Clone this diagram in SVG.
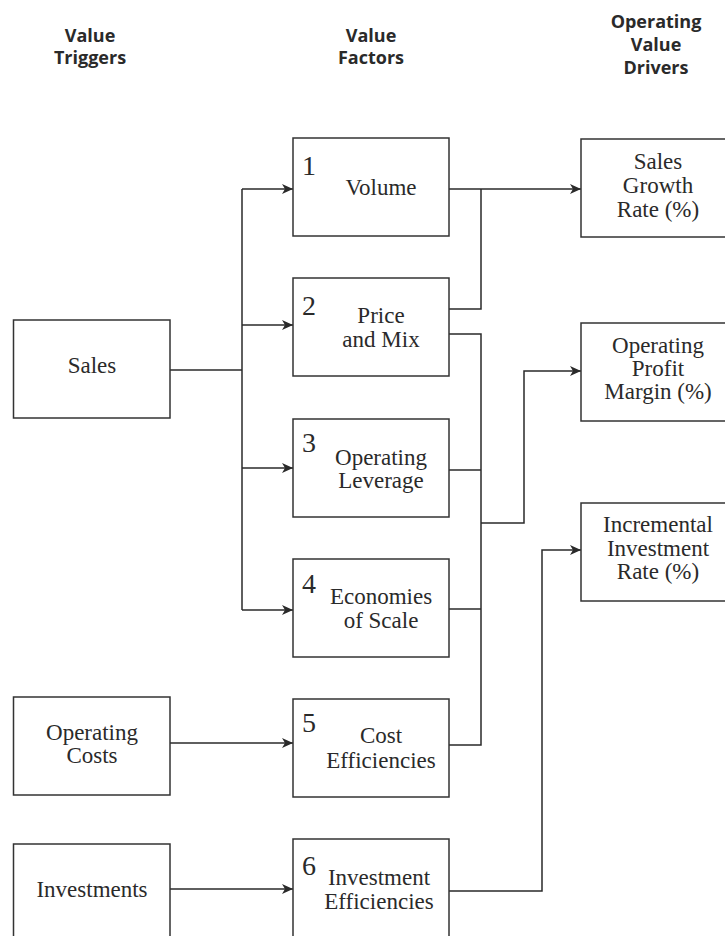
<svg xmlns="http://www.w3.org/2000/svg" width="725" height="936" viewBox="0 0 725 936">
<style>
.box{fill:#fff;stroke:#333;stroke-width:1.5}
.hd{font-family:"Open Sans","Noto Sans",sans-serif;font-weight:bold;font-size:18px;fill:#2a2a2a;text-anchor:middle}
.t{font-family:"Liberation Serif","DejaVu Serif",serif;font-size:23px;fill:#2a2a2a;text-anchor:middle}
.n{font-family:"Liberation Serif","DejaVu Serif",serif;font-size:28px;fill:#2a2a2a}
.c{fill:none;stroke:#2a2a2a;stroke-width:1.5}
</style>
<defs>
<marker id="ar" markerUnits="userSpaceOnUse" markerWidth="13" markerHeight="11" refX="11" refY="5" orient="auto">
<path d="M0,0 L11,5 L0,10 L3,5 z" fill="#2a2a2a"/>
</marker>
</defs>
<rect width="725" height="936" fill="#fff"/>
<g id="headers">
<text class="hd" x="90" y="42">Value</text>
<text class="hd" x="90" y="64">Triggers</text>
<text class="hd" x="371" y="42">Value</text>
<text class="hd" x="371" y="64">Factors</text>
<text class="hd" x="656" y="28">Operating</text>
<text class="hd" x="656" y="51">Value</text>
<text class="hd" x="656" y="74">Drivers</text>
</g>
<g id="connectors">
<path class="c" d="M170,370 H242"/>
<path class="c" d="M242,189 V610"/>
<path class="c" d="M242,189 H293" marker-end="url(#ar)"/>
<path class="c" d="M242,325 H293" marker-end="url(#ar)"/>
<path class="c" d="M242,468 H293" marker-end="url(#ar)"/>
<path class="c" d="M242,610 H293" marker-end="url(#ar)"/>
<path class="c" d="M449,189 H581" marker-end="url(#ar)"/>
<path class="c" d="M449,309 H481 V189"/>
<path class="c" d="M449,334 H481 V745 H449"/>
<path class="c" d="M449,470 H481"/>
<path class="c" d="M449,609 H481"/>
<path class="c" d="M481,523 H524 V371 H581" marker-end="url(#ar)"/>
<path class="c" d="M170,743 H293" marker-end="url(#ar)"/>
<path class="c" d="M170,889 H293" marker-end="url(#ar)"/>
<path class="c" d="M449,891 H542 V550 H581" marker-end="url(#ar)"/>
</g>
<g id="sales">
<rect class="box" x="13.5" y="320" width="156.5" height="98"/>
<text class="t" x="92" y="373">Sales</text>
</g>
<g id="operating-costs">
<rect class="box" x="13.5" y="697" width="156.5" height="98"/>
<text class="t" x="92" y="740">Operating</text>
<text class="t" x="92" y="763">Costs</text>
</g>
<g id="investments">
<rect class="box" x="13.5" y="844" width="156.5" height="100"/>
<text class="t" x="92" y="897">Investments</text>
</g>
<g id="f1">
<rect class="box" x="293" y="138" width="156" height="98"/>
<text class="n" x="302" y="175">1</text>
<text class="t" x="381" y="195">Volume</text>
</g>
<g id="f2">
<rect class="box" x="293" y="278" width="156" height="98"/>
<text class="n" x="302" y="315">2</text>
<text class="t" x="381" y="323">Price</text>
<text class="t" x="381" y="347">and Mix</text>
</g>
<g id="f3">
<rect class="box" x="293" y="419" width="156" height="98"/>
<text class="n" x="302" y="452">3</text>
<text class="t" x="381" y="465">Operating</text>
<text class="t" x="381" y="488">Leverage</text>
</g>
<g id="f4">
<rect class="box" x="293" y="559" width="156" height="98"/>
<text class="n" x="302" y="593">4</text>
<text class="t" x="381" y="604">Economies</text>
<text class="t" x="381" y="628">of Scale</text>
</g>
<g id="f5">
<rect class="box" x="293" y="699" width="156" height="98"/>
<text class="n" x="302" y="732">5</text>
<text class="t" x="381" y="743">Cost</text>
<text class="t" x="381" y="768">Efficiencies</text>
</g>
<g id="f6">
<rect class="box" x="293" y="839" width="156" height="105"/>
<text class="n" x="302" y="875">6</text>
<text class="t" x="379" y="885">Investment</text>
<text class="t" x="379" y="909">Efficiencies</text>
</g>
<g id="d1">
<rect class="box" x="581" y="139" width="160" height="98"/>
<text class="t" x="658" y="169">Sales</text>
<text class="t" x="658" y="193">Growth</text>
<text class="t" x="658" y="217">Rate (%)</text>
</g>
<g id="d2">
<rect class="box" x="581" y="323" width="160" height="98"/>
<text class="t" x="658" y="353">Operating</text>
<text class="t" x="658" y="376">Profit</text>
<text class="t" x="658" y="399">Margin (%)</text>
</g>
<g id="d3">
<rect class="box" x="581" y="503" width="160" height="98"/>
<text class="t" x="658" y="532">Incremental</text>
<text class="t" x="658" y="556">Investment</text>
<text class="t" x="658" y="579">Rate (%)</text>
</g>
</svg>
